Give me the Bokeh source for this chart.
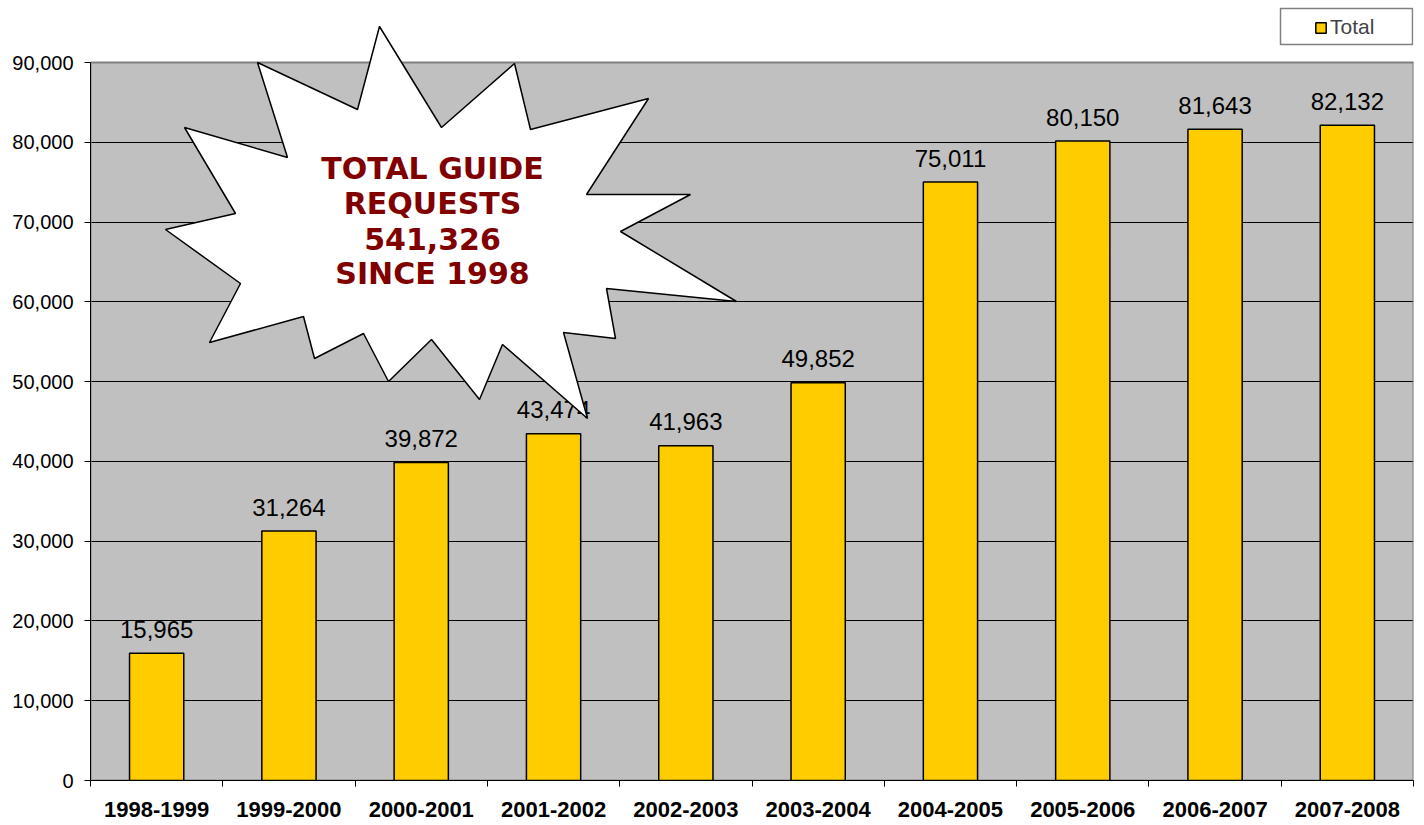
from bokeh.plotting import figure
from bokeh.models import (Range1d, FixedTicker, NumeralTickFormatter, Legend, LegendItem,
                          PolyAnnotation, ColumnDataSource, Label)
from bokeh.core.properties import value
from bokeh.embed import file_html
from bokeh.resources import INLINE

# ---- data ----
categories = ["1998-1999", "1999-2000", "2000-2001", "2001-2002", "2002-2003",
              "2003-2004", "2004-2005", "2005-2006", "2006-2007", "2007-2008"]
totals = [15965, 31264, 39872, 43474, 41963, 49852, 75011, 80150, 81643, 82132]
series_name = "Total"
y_ticks = [0, 10000, 20000, 30000, 40000, 50000, 60000, 70000, 80000, 90000]
callout_lines = ["TOTAL GUIDE", "REQUESTS", f"{sum(totals):,}", "SINCE 1998"]

# ---- layout constants (page pixels) ----
W, H = 1424, 825
FRAME_L, FRAME_R, AXIS_TOP, FRAME_B = 90, 1413, 62, 780
YMAX = 90000
N = len(categories)
YTOP = YMAX * FRAME_B / (FRAME_B - AXIS_TOP)   # frame extends to top of page

def to_data(xw, yw):
    return ((xw - FRAME_L) / (FRAME_R - FRAME_L) * N,
            (FRAME_B - yw) / FRAME_B * YTOP)

# starburst outline (page pixel positions, decoration only)
star_px = [(379, 26), (441, 127), (514, 63), (530, 129), (648, 98), (586, 194),
           (690, 194), (620, 231), (736, 301), (606, 288), (615, 338), (563, 332),
           (587, 418), (502, 344), (479, 399), (431, 339), (388, 381), (363, 333),
           (314, 358), (303, 316), (209, 342), (240, 283), (165, 229), (235, 213),
           (184, 127), (287, 157), (257, 62), (357, 109)]

xs = [i + 0.5 for i in range(N)]
src = ColumnDataSource(dict(x=xs, top=totals, cat=categories,
                            lbl=[f"{v:,}" for v in totals]))

p = figure(width=W, height=H, x_range=Range1d(0, N), y_range=Range1d(0, YTOP),
           output_backend="svg", toolbar_location=None,
           min_border_left=FRAME_L, min_border_right=W - FRAME_R, min_border_top=0,
           min_border_bottom=H - FRAME_B)
p.background_fill_color = "white"
p.border_fill_color = "white"
p.outline_line_color = None

# gray plot-area background (below grid)
p.quad(left=[0], right=[N], bottom=[0], top=[YMAX], fill_color="#C0C0C0",
       line_color=None, level="image")

# grid
p.xgrid.visible = False
p.ygrid.ticker = FixedTicker(ticks=y_ticks)
p.ygrid.grid_line_color = "black"
p.ygrid.grid_line_width = 1

# plot-area border (top and right are visible in gray)
p.quad(left=[0], right=[N], bottom=[0], top=[YMAX], fill_color=None,
       line_color="#808080", line_width=2)

# y axis
p.yaxis.ticker = FixedTicker(ticks=y_ticks)
p.yaxis.bounds = (0, YMAX)
p.yaxis.formatter = NumeralTickFormatter(format="0,0")
p.yaxis.major_tick_out = 6
p.yaxis.major_tick_in = 0
p.yaxis.minor_tick_out = 0
p.yaxis.minor_tick_in = 0
p.yaxis.axis_line_color = "black"
p.yaxis.major_tick_line_color = "black"
p.yaxis.major_label_text_font = "Liberation Sans"
p.yaxis.major_label_text_font_size = "20px"
p.yaxis.major_label_text_color = "black"
p.yaxis.major_label_standoff = 11

# x axis: labels at category centres, tick marks at boundaries (minor ticks)
p.xaxis.ticker = FixedTicker(ticks=xs, minor_ticks=list(range(N + 1)))
p.xaxis.major_label_overrides = {x: c for x, c in zip(xs, categories)}
p.xaxis.major_tick_out = 0
p.xaxis.major_tick_in = 0
p.xaxis.minor_tick_out = 6
p.xaxis.minor_tick_in = 0
p.xaxis.minor_tick_line_color = "black"
p.xaxis.axis_line_color = "black"
p.xaxis.major_label_text_font = "Liberation Sans"
p.xaxis.major_label_text_font_style = "bold"
p.xaxis.major_label_text_font_size = "22px"
p.xaxis.major_label_text_color = "black"
p.xaxis.major_label_standoff = 15

bars = p.vbar(x="x", top="top", width=0.41, source=src, fill_color="#FFCC00",
              line_color="black", line_width=1.5)

p.text(x="x", y="top", text="lbl", source=src, text_align="center",
       text_baseline="alphabetic", y_offset=-24, text_font=value("Liberation Sans"),
       text_font_size="24px", text_color="black")

# legend box (drawn behind the legend)
lx0, ly0 = to_data(1280, 44)
lx1, ly1 = to_data(1412, 8)
p.quad(left=[lx0], right=[lx1], bottom=[ly0], top=[ly1], fill_color="white",
       line_color="#808080", line_width=1.5)

# starburst callout
sx, sy = zip(*[to_data(a, b) for a, b in star_px])
star = PolyAnnotation(xs=list(sx), ys=list(sy), fill_color="white", fill_alpha=1.0,
                      line_color="black", line_width=1.5, line_alpha=1.0)
p.add_layout(star)

cx, _ = to_data(432, 0)
for k, line in enumerate(callout_lines):
    _, cy = to_data(0, 168 + 35 * k)
    p.add_layout(Label(x=cx, y=cy, text=line, text_align="center", text_baseline="middle",
                       text_font="DejaVu Sans", text_font_style="bold",
                       text_font_size="30px", text_color="#800000"))

legend = Legend(items=[LegendItem(label=series_name, renderers=[bars])],
                location=(1314 - FRAME_L, FRAME_B - 39), border_line_color=None,
                background_fill_alpha=0.0,
                label_text_font="Liberation Sans", label_text_font_size="21px",
                glyph_width=13, glyph_height=13, padding=0, margin=0,
                label_standoff=3, spacing=0)
p.add_layout(legend, "center")

open("out.html", "w").write(file_html(p, INLINE))
